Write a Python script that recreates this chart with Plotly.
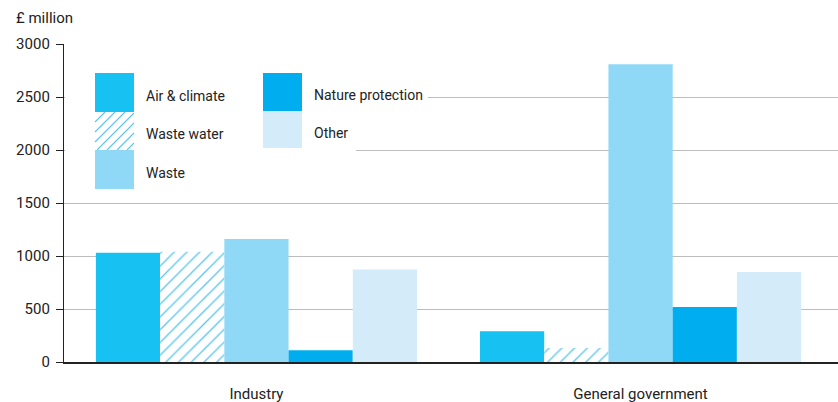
import plotly.graph_objects as go

# Environmental protection expenditure, £ million
sectors = ["Industry", "General government"]
series_names = ["Air & climate", "Waste water", "Waste", "Nature protection", "Other"]
air_climate = [1030, 290]
waste_water = [1040, 132]
waste = [1160, 2810]
nature_protection = [111, 520]
other = [873, 850]
y_ticks = [0, 500, 1000, 1500, 2000, 2500, 3000]

values = [air_climate, waste_water, waste, nature_protection, other]
colors = ["#17c1f2", "#ffffff", "#8fd8f6", "#00aeef", "#d4ecf9"]
hatch_color = "#5cc6ee"

FONT = "Roboto, 'Liberation Sans', Arial, sans-serif"
TEXT = "#222222"

fig = go.Figure()
for name, vals, col in zip(series_names, values, colors):
    marker = dict(color=col, line=dict(width=0))
    if name == "Waste water":
        marker["pattern"] = dict(shape="/", fgcolor=hatch_color, bgcolor="#ffffff",
                                 size=9, solidity=0.15, fillmode="replace")
    fig.add_trace(go.Bar(x=sectors, y=vals, name=name, marker=marker,
                         showlegend=False, hoverinfo="x+y+name"))

# plot area in pixels (used for the legend block drawn with shapes)
W, H = 838, 402
L, R, T, B = 64, 0, 44, 40
pw, ph = W - L - R, H - T - B


def px(x):
    return (x - L) / pw


def py(y):
    return (H - B - y) / ph


shapes = []
annotations = []

# white panel behind the legend, hiding the gridlines there
shapes.append(dict(type="rect", xref="paper", yref="paper", layer="above",
                   x0=px(L + 1), x1=px(428), y0=py(118), y1=py(60),
                   fillcolor="#ffffff", line=dict(width=0)))
shapes.append(dict(type="rect", xref="paper", yref="paper", layer="above",
                   x0=px(L + 1), x1=px(356), y0=py(192), y1=py(117),
                   fillcolor="#ffffff", line=dict(width=0)))


def swatch(x0, y0, x1, y1, color):
    shapes.append(dict(type="rect", xref="paper", yref="paper", layer="above",
                       x0=px(x0), x1=px(x1), y0=py(y1), y1=py(y0),
                       fillcolor=color, line=dict(width=0)))


def hatch_swatch(x0, y0, x1, y1, step=10):
    # diagonal "/" lines clipped to the swatch box
    w, h = x1 - x0, y1 - y0
    c = -h
    while c < w + step:
        # line: x = x0 + c + t, y = y1 - t, for t in [0, h]
        t0 = max(0, -c)
        t1 = min(h, w - c)
        if t1 > t0:
            shapes.append(dict(type="line", xref="paper", yref="paper", layer="above",
                               x0=px(x0 + c + t0), y0=py(y1 - t0),
                               x1=px(x0 + c + t1), y1=py(y1 - t1),
                               line=dict(color=hatch_color, width=1.1)))
        c += step


legend_items = [
    ("Air & climate", 95, 73, 112, colors[0]),
    ("Waste water", 95, 112, 150, None),
    ("Waste", 95, 150, 189, colors[2]),
    ("Nature protection", 263, 73, 111, colors[3]),
    ("Other", 263, 111, 148, colors[4]),
]
for label, x0, y0, y1, col in legend_items:
    if col is None:
        hatch_swatch(x0, y0, x0 + 39, y1)
    else:
        swatch(x0, y0, x0 + 39, y1, col)
    annotations.append(dict(text=label, xref="paper", yref="paper",
                            x=px(x0 + 49), y=py((y0 + y1) / 2 + 3),
                            xanchor="left", yanchor="middle", showarrow=False,
                            font=dict(family=FONT, size=14, color=TEXT)))

annotations.append(dict(text="£ million", xref="paper", yref="paper",
                        x=px(14), y=py(18), xanchor="left", yanchor="middle",
                        showarrow=False, font=dict(family=FONT, size=15, color=TEXT)))

fig.update_layout(
    width=W, height=H,
    margin=dict(l=L, r=R, t=T, b=B, pad=0, autoexpand=False),
    paper_bgcolor="#ffffff", plot_bgcolor="#ffffff",
    barmode="group", bargap=0.164, bargroupgap=0,
    font=dict(family=FONT, size=15, color=TEXT),
    shapes=shapes, annotations=annotations,
    xaxis=dict(range=[-0.501, 1.514], showgrid=False, showline=True,
               linecolor="#222222", linewidth=2, ticks="", automargin=False,
               ticklabelstandoff=17, tickfont=dict(size=15, color=TEXT),
               fixedrange=True),
    yaxis=dict(range=[0, 3000], tickvals=y_ticks, showgrid=True,
               gridcolor="#bdbdbd", gridwidth=1.4, zeroline=False,
               showline=True, linecolor="#222222", linewidth=1.3, automargin=False,
               ticks="outside", ticklen=7, tickcolor="#222222", tickwidth=1.3,
               ticklabelstandoff=3, tickfont=dict(size=15, color=TEXT),
               fixedrange=True),
)

fig.write_html("out.html")
